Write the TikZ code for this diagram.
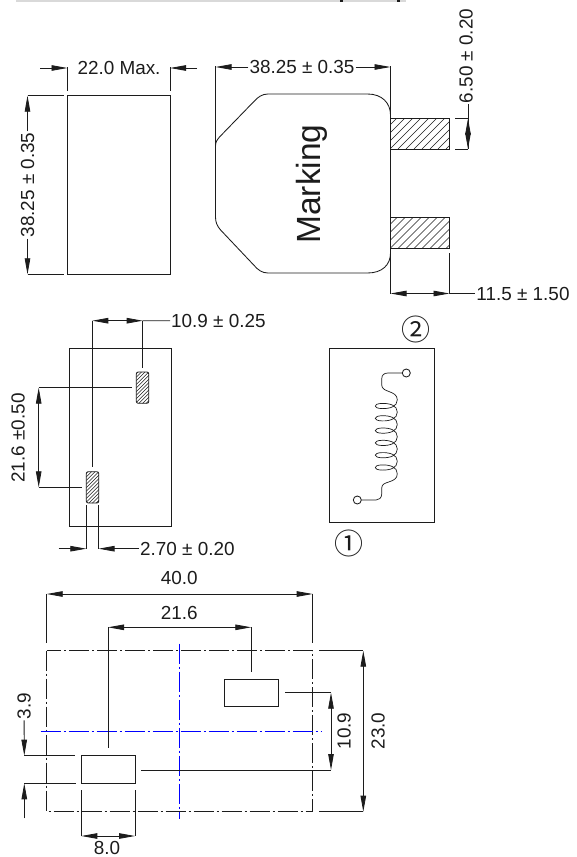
\documentclass[tikz,border=0pt]{standalone}
\definecolor{HeadGrey}{HTML}{d9d9d9}
\definecolor{DrawBlack}{HTML}{1c1c1c}
\usepackage{fontspec}
\setmainfont{Liberation Sans}
\newfontfamily\circfont{Noto Sans CJK JP}
\usetikzlibrary{arrows.meta,positioning,calc}
\tikzset{
  line/.style={draw=DrawBlack,line width=0.85pt},
  dim/.style={line,{Triangle[length=16pt,width=5.5pt]}-{Triangle[length=16pt,width=5.5pt]}},
  dimto/.style={line,-{Triangle[length=16pt,width=5.5pt]}},
  lbl/.style={inner sep=1pt,font=\fontsize{18.9}{20}\selectfont,text=DrawBlack},
  lblv/.style={lbl,rotate=90},
  circnum/.style={inner sep=0pt,font=\circfont\fontsize{29}{32}\selectfont,text=DrawBlack},
  centerline/.style={draw=blue,line width=1.6pt,dash pattern=on 20pt off 3pt on 2pt off 3pt},
  outline/.style={draw=DrawBlack,line width=0.85pt,dash pattern=on 20pt off 3pt on 2pt off 3pt},
  hatch/.style={draw=DrawBlack,line width=0.55pt},
}
\begin{document}
\begin{tikzpicture}[x=1pt,y=-1pt]
  \useasboundingbox (0,0) rectangle (576,857);
  % header strip
  \fill[HeadGrey] (16,0) rectangle (406,2);
  \fill[DrawBlack] (339.5,0) rectangle (343,2);
  \fill[DrawBlack] (396.5,0) rectangle (399.5,2);

  % side view
  \draw[line] (67.5,95.7) rectangle (170,274.3);
  \draw[line] (67.5,67) -- (67.5,91);
  \draw[line] (170,67) -- (170,91);
  \node[lbl] (lblMax) at (119,68) {22.0 Max.};
  \draw[dimto] (40,68) -- (67.5,68);
  \draw[dimto] (197,68) -- (170,68);
  \node[lblv] (lblSide) at (27.5,185) {38.25 ± 0.35};
  \draw[line] (27.5,95.7) -- (63.5,95.7);
  \draw[line] (27.5,274.3) -- (63.5,274.3);
  \draw[dimto] (lblSide) -- (27.5,95.7);
  \draw[dimto] (lblSide) -- (27.5,274.3);

  % front view with leads
  \draw[line] (215.5,146) .. controls (215.5,142) and (217,140) .. (219.5,137)
    -- (253.7,101.7) .. controls (258,97) and (262,94) .. (268,94)
    -- (367.6,94) .. controls (382,94) and (390.5,103) .. (390.5,115)
    -- (390.5,253) .. controls (390.5,265) and (382,273) .. (367.6,273)
    -- (268,273) .. controls (262,273) and (258,270) .. (253.7,265)
    -- (220.6,230) .. controls (217,226) and (215.5,222) .. (215.5,217) -- cycle;
  \node[rotate=90,inner sep=0pt,font=\fontsize{33.5}{36}\selectfont,text=DrawBlack] (lblMark) at (312,184) {Marking};
  \foreach \ytop/\ybot in {118.5/149,217.5/248.5}{
    \begin{scope}
      \clip (390.5,\ytop) rectangle (449.5,\ybot);
      \foreach \xs in {358,366,...,450}
        \draw[hatch] (\xs,\ybot) -- ++(34,-34);
    \end{scope}
    \draw[line] (390.5,\ytop) rectangle (449.5,\ybot);
  }
  \draw[line] (215.5,66) -- (215.5,146);
  \draw[line] (390.5,66) -- (390.5,115);
  \node[lbl] (lblFront) at (302,67) {38.25 ± 0.35};
  \draw[dimto] (lblFront) -- (215.5,67);
  \draw[dimto] (lblFront) -- (390.5,67);
  \draw[line] (455,118.5) -- (468,118.5);
  \draw[line] (455,149) -- (468,149);
  \node[lblv] (lblLead) at (466,56) {6.50 ± 0.20};
  \coordinate (leadBot) at (468,149);
  \draw[line] (lblLead.west -| leadBot) -- (leadBot);
  \draw[dim] (468,118.5) -- (leadBot);
  \draw[line] (390.5,255) -- (390.5,294);
  \draw[line] (449.5,253) -- (449.5,294);
  \node[lbl] (lblLen) at (523,293.5) {11.5 ± 1.50};
  \draw[dim] (390.5,293.5) -- (449.5,293.5);
  \draw[line] (449.5,293.5) -- (lblLen);

  % bottom view with pads
  \draw[line] (69.7,348.3) rectangle (171.3,526.7);
  \foreach \px/\py in {136.3/372,86.3/471.7}{
    \begin{scope}
      \clip[rounded corners=2pt] (\px,\py) rectangle ++(12.5,31.3);
      \foreach \ds in {0,3.6,...,48}
        \draw[hatch] (\px-2,\py+\ds) -- ++(18,-18);
    \end{scope}
    \draw[line,rounded corners=2pt] (\px,\py) rectangle ++(12.5,31.3);
  }
  \node[lbl,anchor=west] (lblPitch) at (170,321) {10.9 ± 0.25};
  \draw[dim] (92.3,320.7) -- (142.7,320.7);
  \draw[line] (142.7,320.7) -- (lblPitch);
  \draw[line] (92.3,320.7) -- (92.3,466.7);
  \draw[line] (142.7,320.7) -- (142.7,367.7);
  \draw[dim] (38.7,387.7) -- (38.7,487.3);
  \draw[line] (38.7,387.7) -- (132,387.7);
  \draw[line] (38.7,487.3) -- (81.7,487.3);
  \node[lblv] (lblSpan) at (18,438) {21.6 ±0.50};
  \draw[line] (86.3,505) -- (86.3,548.7);
  \draw[line] (98.5,505) -- (98.5,548.7);
  \node[lbl,anchor=west] (lblPad) at (139,548.7) {2.70 ± 0.20};
  \draw[dimto] (58.7,548.7) -- (86.3,548.7);
  \draw[dimto] (lblPad) -- (98.5,548.7);

  % schematic
  \draw[line] (329.7,348.7) rectangle (434.7,522.7);
  \node[circnum] (lblTwo) at (416.3,329) {②};
  \node[circnum] (lblOne) at (348.7,543.3) {①};
  \node[circle,line,inner sep=0pt,minimum size=8pt] (termTop) at (406.3,373) {};
  \node[circle,line,inner sep=0pt,minimum size=8pt] (termBot) at (357.3,500) {};
  \draw[line,line width=0.7pt] (termTop) -- (388,373) .. controls (384,373) and (381.7,375) .. (381.7,379)
    -- (381.7,385) .. controls (381.7,393) and (397.3,390) .. (397.3,399.9);
  \foreach \yc in {406,418.3,430.6,442.9,455.2,467.5}
    \draw[line,line width=0.7pt] (397.3,\yc-6.15) .. controls (397.3,\yc+0.5) and (390,\yc+2.8) .. (382,\yc+2.6)
      .. controls (373,\yc+2.4) and (373,\yc-2.4) .. (382,\yc-2.6)
      .. controls (390,\yc-2.8) and (397.3,\yc-0.5) .. (397.3,\yc+6.15);
  \draw[line,line width=0.7pt] (397.3,473.6) .. controls (397.3,484) and (381.7,480) .. (381.7,488)
    -- (381.7,494) .. controls (381.7,498) and (379,500) .. (376,500) -- (termBot);

  % land pattern
  \draw[outline] (46.7,650.7) rectangle (312.7,811.7);
  \draw[centerline] (179.5,643.7) -- (179.5,818.7);
  \draw[centerline] (40.7,731.5) -- (321,731.5);
  \draw[line] (224.7,679.3) rectangle (278,706.7);
  \draw[line] (81.3,755.7) rectangle (135,783.3);
  \node[lbl] (lblWide) at (179.3,578) {40.0};
  \draw[dim] (46.7,594) -- (312.7,594);
  \draw[line] (46.7,594) -- (46.7,643);
  \draw[line] (312.7,594) -- (312.7,643);
  \node[lbl] (lblGap) at (179.3,613) {21.6};
  \draw[dim] (108,627.3) -- (251.3,627.3);
  \draw[line] (108,627.3) -- (108,748.3);
  \draw[line] (251.3,627.3) -- (251.3,671.7);
  \draw[dim] (331,692.7) -- (331,770);
  \draw[line] (285,692.7) -- (331,692.7);
  \draw[line] (141.3,770) -- (331,770);
  \node[lblv] (lblRow) at (344,731) {10.9};
  \draw[dim] (363.3,650.7) -- (363.3,811.7);
  \draw[line] (319,650.7) -- (363.3,650.7);
  \draw[line] (319,811.7) -- (363.3,811.7);
  \node[lblv] (lblTall) at (378,731) {23.0};
  \node[lblv] (lblLand) at (24,706) {3.9};
  \draw[dimto] (lblLand) -- (24.3,755.7);
  \draw[dimto] (24.3,818.3) -- (24.3,783.3);
  \draw[line] (24.3,755.7) -- (74.7,755.7);
  \draw[line] (24.3,783.3) -- (76.3,783.3);
  \draw[line] (81.3,790) -- (81.3,836);
  \draw[line] (135,790) -- (135,836);
  \draw[dim] (81.3,836) -- (135,836);
  \node[lbl] (lblPadW) at (107,848) {8.0};
\end{tikzpicture}
\end{document}
